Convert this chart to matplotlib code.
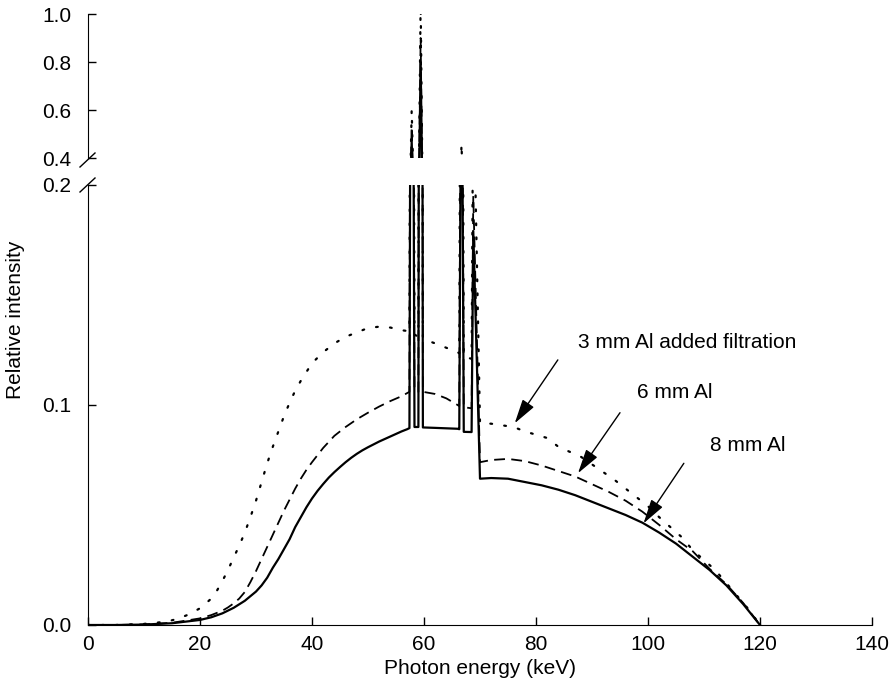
import matplotlib
matplotlib.use("Agg")
import matplotlib.pyplot as plt
from matplotlib.lines import Line2D

plt.rcParams["font.family"] = ["Liberation Sans", "DejaVu Sans"]
plt.rcParams["font.size"] = 15

# --- data (energy keV, relative intensity) ---
e_8mm = [0, 5, 10, 15, 20, 22, 24, 26, 28, 30, 31, 32, 33, 34, 35, 36, 37, 38, 39, 40,
         41, 42, 43, 44, 45, 46, 47, 48, 49, 50, 52, 54, 56, 57,
         57.4, 57.8, 58.3, 59.0, 59.4, 59.8, 62, 64, 66, 66.3, 66.7, 67.1, 68.5, 68.8,
         70, 72, 75, 78, 81, 84, 87, 90, 93, 96, 99, 102, 105, 108, 111, 114, 117, 120]
i_8mm = [0, 0, 0.0002, 0.0008, 0.0023, 0.0035, 0.0053, 0.0078, 0.011, 0.0152, 0.018,
         0.0215, 0.026, 0.030, 0.0345, 0.039, 0.0445, 0.049, 0.0535, 0.0575,
         0.061, 0.0641, 0.067, 0.0695, 0.0718, 0.074, 0.076, 0.0778, 0.0794, 0.0808,
         0.0834, 0.0857, 0.088, 0.089,
         0.0895, 0.47, 0.090, 0.090, 0.80, 0.0898, 0.0896, 0.0894, 0.0892, 0.089, 0.30,
         0.0878, 0.0877, 0.179,
         0.0665, 0.0668, 0.0665, 0.065, 0.0635, 0.0615, 0.059, 0.056, 0.053, 0.050,
         0.0465, 0.042, 0.037, 0.031, 0.025, 0.018, 0.0095, 0.0]

e_6mm = [0, 5, 10, 15, 20, 22, 24, 25, 26, 27, 28, 29, 30, 31, 32, 33, 34, 35, 36, 37,
         38, 39, 40, 42, 44, 46, 48, 50, 52, 54, 56,
         57.4, 57.8, 58.3, 59.0, 59.4, 59.8, 62, 64, 66, 66.3, 66.7, 67.1,
         68.5, 68.8, 70, 72, 75, 78, 81, 84, 87, 90, 93, 96, 99, 102, 105, 108, 111,
         114, 117, 120]
i_6mm = [0, 0, 0.0003, 0.001, 0.003, 0.0045, 0.0065, 0.008, 0.0098, 0.012, 0.015,
         0.0195, 0.0245, 0.030, 0.0355, 0.041, 0.0465, 0.052, 0.057, 0.062,
         0.0665, 0.0705, 0.074, 0.0805, 0.086, 0.090, 0.0935, 0.0965, 0.0993, 0.1018,
         0.104,
         0.106, 0.53, 0.107, 0.106, 0.90, 0.106, 0.105, 0.103, 0.100, 0.0995, 0.35,
         0.099,
         0.0985, 0.195, 0.074, 0.075, 0.0755, 0.0745, 0.0725, 0.070, 0.0675, 0.064,
         0.0605, 0.0565, 0.0515, 0.0455, 0.039, 0.0335, 0.0255, 0.0185, 0.010, 0.0]

e_3mm = [0, 5, 10, 14, 16, 18, 20, 21, 22, 23, 24, 25, 26, 27, 28, 29, 30, 31, 32, 33,
         34, 35, 36, 37, 38, 39, 40, 41, 42, 44, 46, 48, 50, 52, 54, 56,
         57.4, 57.8, 58.3, 59.0, 59.4, 59.8, 62, 64, 66, 66.3, 66.7,
         67.1, 68.5, 68.8, 70, 72, 76, 78, 82, 84, 88, 90, 94, 96, 100, 102, 106, 108,
         112, 114, 116, 118, 120]
i_3mm = [0, 0, 0.0005, 0.0015, 0.0028, 0.0048, 0.0076, 0.0097, 0.012, 0.0155, 0.020,
         0.025, 0.0306, 0.036, 0.042, 0.049, 0.0565, 0.065, 0.0735, 0.081,
         0.088, 0.095, 0.101, 0.1065, 0.111, 0.115, 0.119, 0.1215, 0.124, 0.128, 0.131,
         0.133, 0.135, 0.1356, 0.1352, 0.134,
         0.1335, 0.60, 0.132, 0.131, 1.05, 0.130, 0.128, 0.126, 0.124, 0.1235, 0.46,
         0.122, 0.121, 0.25, 0.0918, 0.0915, 0.090, 0.088, 0.085, 0.081, 0.0765, 0.073,
         0.066, 0.062, 0.054, 0.049, 0.040, 0.034,
         0.025, 0.019, 0.013, 0.007, 0.0]

x_ticks = [0, 20, 40, 60, 80, 100, 120, 140]
y_ticks_low = [0.0, 0.1, 0.2]
y_ticks_high = [0.4, 0.6, 0.8, 1.0]

W, H = 896, 696
fig = plt.figure(figsize=(W / 100, H / 100), dpi=100)

x0, x1 = 88, 872
ax_lo = fig.add_axes([x0 / W, 1 - 625 / H, (x1 - x0) / W, 440 / H])
ax_hi = fig.add_axes([x0 / W, 1 - 158 / H, (x1 - x0) / W, 144 / H])

series = [
    (e_3mm, i_3mm, dict(ls=(0, (0.8, 5.5)), lw=1.6, dash_capstyle="round")),
    (e_6mm, i_6mm, dict(ls=(0, (6, 3.5)), lw=1.3)),
    (e_8mm, i_8mm, dict(ls="-", lw=1.6)),
]
for ax in (ax_lo, ax_hi):
    for e, i, st in series:
        ax.plot(e, i, color="black", **st)
    ax.set_xlim(0, 140)
    for s in ("top", "right"):
        ax.spines[s].set_visible(False)
    ax.tick_params(direction="in", length=6, width=1, colors="black", labelsize=15)

ax_lo.set_ylim(0, 0.2)
ax_lo.set_yticks(y_ticks_low)
ax_lo.set_yticklabels(["0.0", "0.1", "0.2"])
ax_lo.set_xticks(x_ticks)
ax_lo.tick_params(axis="y", pad=12)
ax_lo.tick_params(axis="x", pad=7)
ax_lo.set_xlabel("Photon energy (keV)", fontsize=15, labelpad=4)

ax_hi.set_ylim(0.4, 1.0)
ax_hi.set_yticks(y_ticks_high)
ax_hi.set_yticklabels(["0.4", "0.6", "0.8", "1.0"])
ax_hi.tick_params(axis="y", pad=12)
ax_hi.spines["bottom"].set_visible(False)
ax_hi.set_xticks([])
ax_hi.patch.set_alpha(0)

fig.text(16 / W, 1 - 320 / H, "Relative intensity", rotation=90,
         ha="center", va="center", fontsize=15)

# break marks on the y axis
for yc in (160, 185):
    fig.add_artist(Line2D([(x0 - 8) / W, (x0 + 7) / W],
                          [1 - (yc + 7) / H, 1 - (yc - 7) / H],
                          transform=fig.transFigure, color="black", lw=1))

# labels with arrows
notes = [
    ("3 mm Al added filtration", (87.5, 0.1286), (83.9, 0.1205), (76.2, 0.0917)),
    ("6 mm Al", (98.0, 0.1055), (95.0, 0.0965), (87.5, 0.069)),
    ("8 mm Al", (111.0, 0.0818), (106.4, 0.0735), (99.2, 0.0462)),
]
for txt, tpos, start, tip in notes:
    ax_lo.text(tpos[0], tpos[1], txt, ha="left", va="center", fontsize=15)
    ax_lo.annotate("", xy=tip, xytext=start,
                   arrowprops=dict(arrowstyle="-|>,head_length=1.0,head_width=0.28",
                                   color="black", lw=1, shrinkA=0, shrinkB=0))

fig.savefig("out.png", dpi=100)
